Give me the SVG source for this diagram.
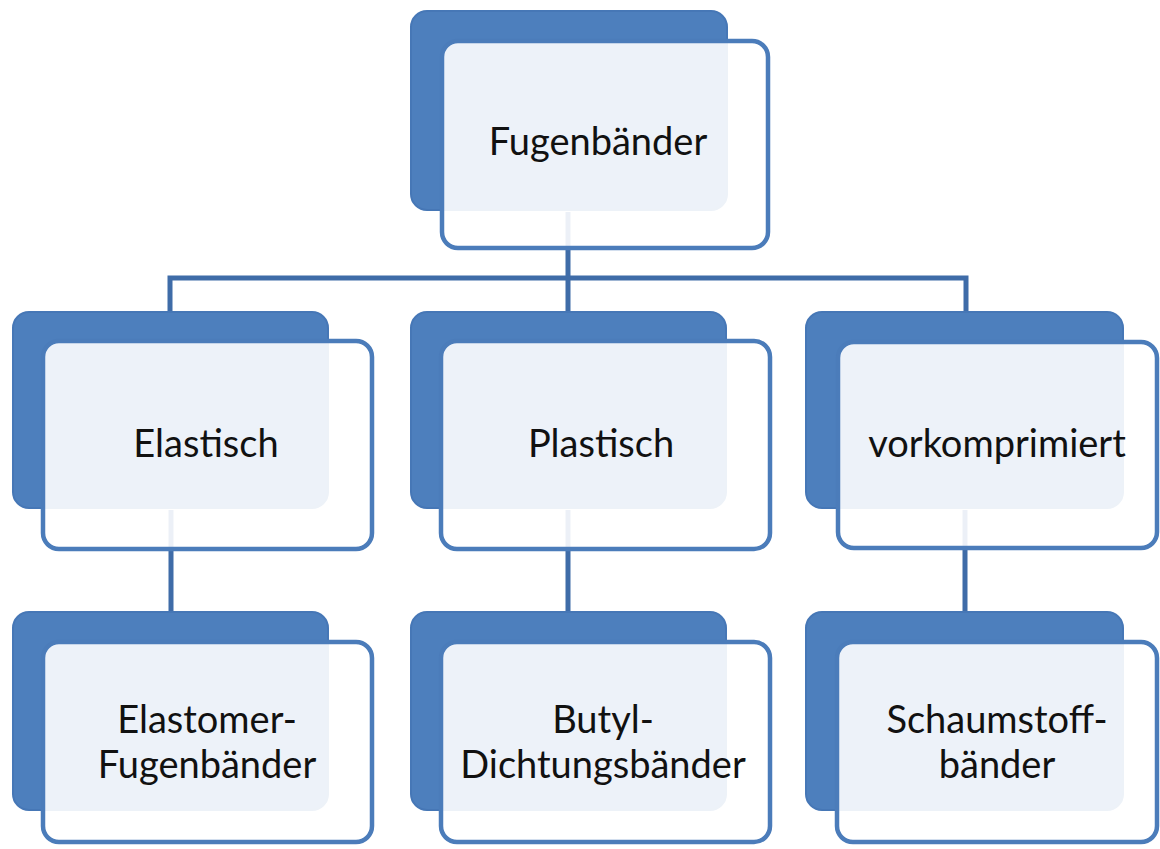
<svg xmlns="http://www.w3.org/2000/svg" width="1160" height="849" viewBox="0 0 1160 849">
<defs>
<style>
.back{fill:#4d7fbd;stroke:#4677b6;stroke-width:2}
.front{fill:#ffffff;fill-opacity:0.9;stroke:#4b7cba;stroke-width:4.5}
.conn{stroke:#3f6ca8;stroke-width:5;fill:none}
.lbl{font-family:Lato,"Open Sans","Liberation Sans",sans-serif;font-size:38px;fill:#111111;text-anchor:middle}
</style>
</defs>
<rect width="1160" height="849" fill="#ffffff"/>
<g id="connectors">
<path class="conn" d="M568 212 V278 M170 312 V278 H966 V312 M568 278 V312"/>
<path class="conn" d="M171 510 V612 M568 510 V612 M965 510 V612"/>
</g>
<g id="n-fugenbaender">
<rect class="back" x="411" y="11" width="316" height="199" rx="16"/>
<rect class="front" x="442" y="41" width="326" height="207" rx="16"/>
<text class="lbl" x="598" y="155">Fugenbänder</text>
</g>
<g id="n-elastisch">
<rect class="back" x="13" y="312" width="315" height="196" rx="16"/>
<rect class="front" x="43" y="341" width="329" height="208" rx="16"/>
<text class="lbl" x="206" y="457">Elastisch</text>
</g>
<g id="n-plastisch">
<rect class="back" x="411" y="312" width="315" height="196" rx="16"/>
<rect class="front" x="441" y="341" width="329" height="208" rx="16"/>
<text class="lbl" x="601" y="457">Plastisch</text>
</g>
<g id="n-vorkomprimiert">
<rect class="back" x="806" y="312" width="317" height="196" rx="16"/>
<rect class="front" x="838" y="342" width="319" height="206" rx="16"/>
<text class="lbl" x="997" y="457">vorkomprimiert</text>
</g>
<g id="n-elastomer">
<rect class="back" x="13" y="612" width="315" height="198" rx="16"/>
<rect class="front" x="43" y="642" width="329" height="200" rx="16"/>
<text class="lbl" x="207" y="733">Elastomer-</text>
<text class="lbl" x="207" y="778">Fugenbänder</text>
</g>
<g id="n-butyl">
<rect class="back" x="411" y="612" width="315" height="198" rx="16"/>
<rect class="front" x="441" y="642" width="329" height="200" rx="16"/>
<text class="lbl" x="603" y="733">Butyl-</text>
<text class="lbl" x="603" y="778">Dichtungsbänder</text>
</g>
<g id="n-schaumstoff">
<rect class="back" x="806" y="612" width="317" height="198" rx="16"/>
<rect class="front" x="837" y="642" width="320" height="200" rx="16"/>
<text class="lbl" x="997" y="733">Schaumstoff-</text>
<text class="lbl" x="997" y="778">bänder</text>
</g>
</svg>
